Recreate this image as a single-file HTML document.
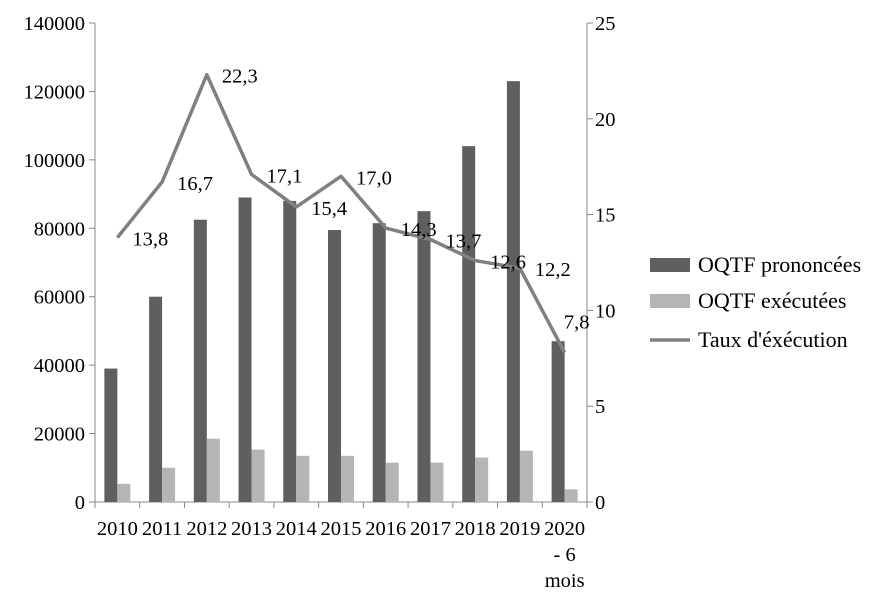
<!DOCTYPE html>
<html><head><meta charset="utf-8"><style>
body{margin:0;background:#fff}
svg text{font-family:"Liberation Serif",serif;font-size:20.5px;fill:#000}
svg text.lg{font-size:22px}
</style></head><body>
<svg id="chart" width="886" height="607"></svg>
<script>
const categories=["2010","2011","2012","2013","2014","2015","2016","2017","2018","2019","2020"];
const prononcees=[39000,60000,82500,89000,88000,79500,81500,85000,104000,123000,47000];
const executees=[5300,10000,18500,15300,13500,13500,11500,11500,13000,15000,3700];
const taux=[13.8,16.7,22.3,17.1,15.4,17.0,14.3,13.7,12.6,12.2,7.8];
const tauxLabels=["13,8","16,7","22,3","17,1","15,4","17,0","14,3","13,7","12,6","12,2","7,8"];
const leftTicks=[0,20000,40000,60000,80000,100000,120000,140000];
const rightTicks=[0,5,10,15,20,25];
const L=95,R=587,T=23,B=502;
const svg=document.getElementById('chart');
const NS='http://www.w3.org/2000/svg';
function mk(tag,attrs,parent){const e=document.createElementNS(NS,tag);for(const k in attrs)e.setAttribute(k,attrs[k]);(parent||svg).appendChild(e);return e;}
const step=(R-L)/categories.length;
const xc=i=>L+step*(i+0.5);
const yl=v=>B-(v/140000)*(B-T);
const yr=v=>B-(v/25)*(B-T);
let a=mk('line',{x1:L,y1:T,x2:L,y2:B,stroke:'#888'});

a=mk('line',{x1:R,y1:T,x2:R,y2:B,stroke:'#888'});

a=mk('line',{x1:L,y1:B,x2:R,y2:B,stroke:'#888'});

leftTicks.forEach(v=>{const y=yl(v);mk('line',{x1:L-6,y1:y,x2:L,y2:y,stroke:'#888'});
 const t=mk('text',{x:L-10,y:y+7,'text-anchor':'end'});t.textContent=v;
 });
rightTicks.forEach(v=>{const y=yr(v);mk('line',{x1:R,y1:y,x2:R+6,y2:y,stroke:'#888'});
 const t=mk('text',{x:R+8,y:y+7,'text-anchor':'start'});t.textContent=v;
 });
for(let i=0;i<=categories.length;i++){const x=L+step*i;mk('line',{x1:x,y1:B,x2:x,y2:B+6,stroke:'#888'});}
categories.forEach((c,i)=>{const t=mk('text',{x:xc(i),y:535,'text-anchor':'middle'});t.textContent=c;
 });
let ex=mk('text',{x:xc(10),y:561,'text-anchor':'middle'});ex.textContent='- 6';

ex=mk('text',{x:xc(10),y:587,'text-anchor':'middle'});ex.textContent='mois';

const bw=13;
categories.forEach((c,i)=>{
 let b=mk('rect',{x:xc(i)-bw,y:yl(prononcees[i]),width:bw,height:B-yl(prononcees[i]),fill:'#5f5f5f'});
 
 b=mk('rect',{x:xc(i),y:yl(executees[i]),width:bw,height:B-yl(executees[i]),fill:'#b5b5b5'});
 
});
const pts=taux.map((v,i)=>xc(i)+','+yr(v)).join(' ');
const ln=mk('polyline',{points:pts,fill:'none',stroke:'#808080','stroke-width':3.5,'stroke-linejoin':'round'});

taux.forEach((v,i)=>{
 const last=i===taux.length-1;
 const t=mk('text',{x:last?xc(i)+12:xc(i)+15,y:last?yr(v)-24:yr(v)+8,'text-anchor':last?'middle':'start'});
 t.textContent=tauxLabels[i];
 
});
const lg=[['rect','#5f5f5f','OQTF prononcées',265],['rect','#b5b5b5','OQTF exécutées',301],['line','#808080',"Taux d'éxécution",340]];
lg.forEach(([k,col,txt,y])=>{
 const g=mk('g',{});
 
 if(k==='rect')mk('rect',{x:650,y:y-7,width:40,height:14,fill:col},g);
 else mk('line',{x1:650,y1:y,x2:690,y2:y,stroke:col,'stroke-width':3.5},g);
 const t=mk('text',{x:698,y:y+7,class:'lg'},g);t.textContent=txt;
});
</script>
</body></html>
